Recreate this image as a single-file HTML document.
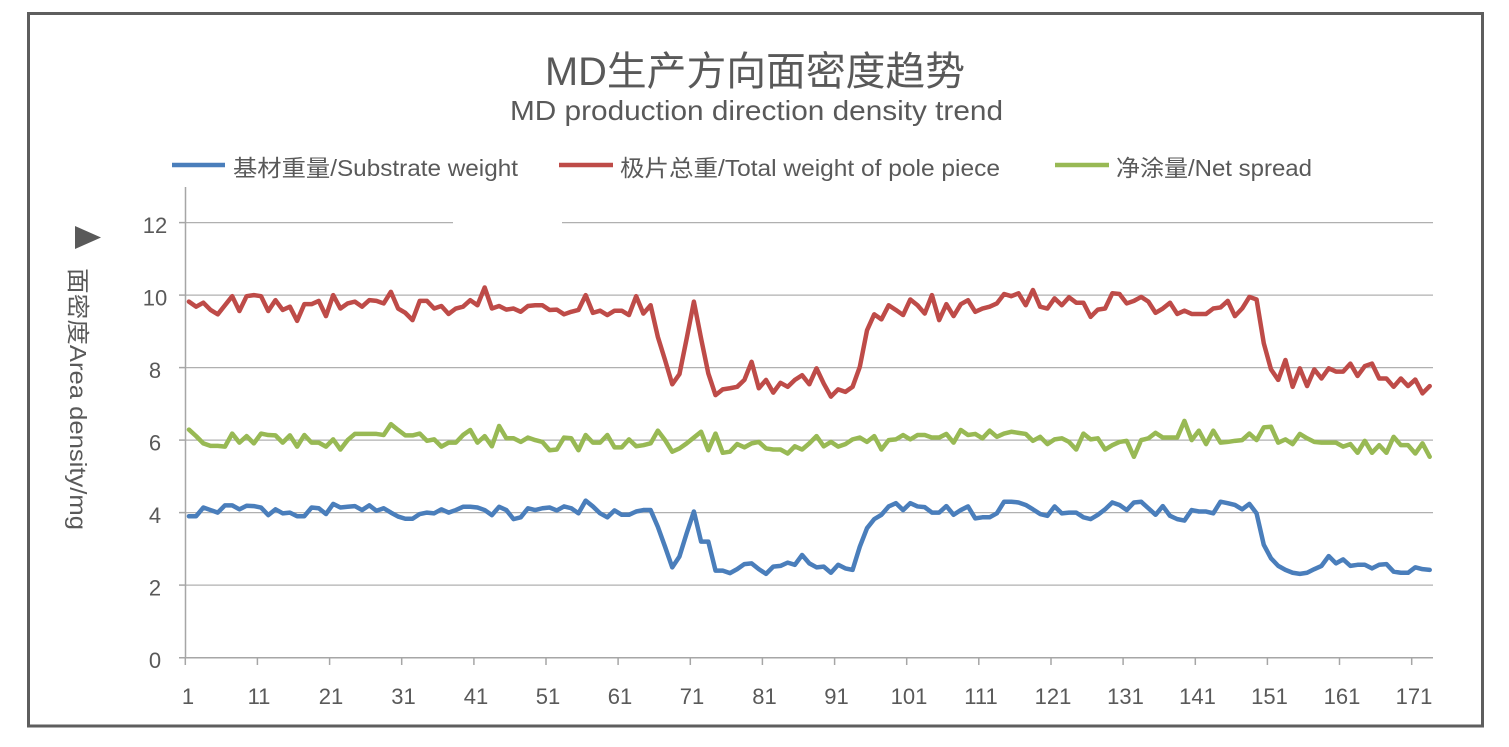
<!DOCTYPE html>
<html><head><meta charset="utf-8"><style>
html,body{margin:0;padding:0;background:#fff;}
svg{display:block;}
text{font-family:"Liberation Sans","Noto Sans CJK SC",sans-serif;fill:#595959;}
</style></head><body>
<svg width="1509" height="747" viewBox="0 0 1509 747" xmlns="http://www.w3.org/2000/svg">
<rect x="0" y="0" width="1509" height="747" fill="#fff"/>
<rect x="28.5" y="13.5" width="1454" height="712.5" fill="#fff" stroke="#5e5e5e" stroke-width="3"/>

<!-- Title -->
<text x="545" y="85" font-size="40" textLength="420" lengthAdjust="spacingAndGlyphs">MD生产方向面密度趋势</text>
<text x="510" y="120" font-size="28" textLength="493" lengthAdjust="spacingAndGlyphs">MD production direction density trend</text>

<!-- Legend -->
<line x1="172" y1="165" x2="225" y2="165" stroke="#4a7ebb" stroke-width="4.5"/>
<text x="233" y="176" font-size="23" textLength="285" lengthAdjust="spacingAndGlyphs">基材重量/Substrate weight</text>
<line x1="559" y1="165" x2="613" y2="165" stroke="#be4b48" stroke-width="4.5"/>
<text x="620" y="176" font-size="23" textLength="380" lengthAdjust="spacingAndGlyphs">极片总重/Total weight of pole piece</text>
<line x1="1055" y1="165" x2="1109" y2="165" stroke="#98b954" stroke-width="4.5"/>
<text x="1116" y="176" font-size="23" textLength="196" lengthAdjust="spacingAndGlyphs">净涂量/Net spread</text>

<!-- Y axis title -->
<polygon points="75,226 101,237.5 75,249" fill="#595959"/>
<text transform="translate(70,268) rotate(90)" font-size="23" textLength="262" lengthAdjust="spacingAndGlyphs">面密度Area density/mg</text>

<!-- Gridlines -->
<g stroke="#b0b0b0" stroke-width="1.3">
<line x1="186" y1="222.6" x2="453" y2="222.6"/>
<line x1="562" y1="222.6" x2="1433" y2="222.6"/>
<line x1="186" y1="295.1" x2="1433" y2="295.1"/>
<line x1="186" y1="367.6" x2="1433" y2="367.6"/>
<line x1="186" y1="440.1" x2="1433" y2="440.1"/>
<line x1="186" y1="512.6" x2="1433" y2="512.6"/>
<line x1="186" y1="585.1" x2="1433" y2="585.1"/>
</g>
<!-- Axes -->
<g stroke="#a6a6a6" stroke-width="1.5">
<line x1="185.5" y1="187" x2="185.5" y2="658"/>
<line x1="179" y1="657.7" x2="1433" y2="657.7"/>
<line x1="179" y1="222.6" x2="186" y2="222.6"/>
<line x1="179" y1="295.1" x2="186" y2="295.1"/>
<line x1="179" y1="367.6" x2="186" y2="367.6"/>
<line x1="179" y1="440.1" x2="186" y2="440.1"/>
<line x1="179" y1="512.6" x2="186" y2="512.6"/>
<line x1="179" y1="585.1" x2="186" y2="585.1"/>
<line x1="185.3" y1="657.7" x2="185.3" y2="665"/>
<line x1="257.4" y1="657.7" x2="257.4" y2="665"/>
<line x1="329.6" y1="657.7" x2="329.6" y2="665"/>
<line x1="401.7" y1="657.7" x2="401.7" y2="665"/>
<line x1="473.9" y1="657.7" x2="473.9" y2="665"/>
<line x1="546.0" y1="657.7" x2="546.0" y2="665"/>
<line x1="618.1" y1="657.7" x2="618.1" y2="665"/>
<line x1="690.3" y1="657.7" x2="690.3" y2="665"/>
<line x1="762.4" y1="657.7" x2="762.4" y2="665"/>
<line x1="834.6" y1="657.7" x2="834.6" y2="665"/>
<line x1="906.7" y1="657.7" x2="906.7" y2="665"/>
<line x1="978.8" y1="657.7" x2="978.8" y2="665"/>
<line x1="1051.0" y1="657.7" x2="1051.0" y2="665"/>
<line x1="1123.1" y1="657.7" x2="1123.1" y2="665"/>
<line x1="1195.3" y1="657.7" x2="1195.3" y2="665"/>
<line x1="1267.4" y1="657.7" x2="1267.4" y2="665"/>
<line x1="1339.5" y1="657.7" x2="1339.5" y2="665"/>
<line x1="1411.7" y1="657.7" x2="1411.7" y2="665"/>
</g>

<!-- Y tick labels -->
<g font-size="22" text-anchor="middle">
<text x="155" y="233">12</text>
<text x="155" y="305.5">10</text>
<text x="155" y="378">8</text>
<text x="155" y="450.5">6</text>
<text x="155" y="523">4</text>
<text x="155" y="595.5">2</text>
<text x="155" y="668">0</text>
</g>
<!-- X tick labels -->
<g font-size="22" text-anchor="middle">
<text x="188" y="704">1</text>
<text x="259" y="704">11</text>
<text x="331" y="704">21</text>
<text x="403.5" y="704">31</text>
<text x="476" y="704">41</text>
<text x="548" y="704">51</text>
<text x="620" y="704">61</text>
<text x="692" y="704">71</text>
<text x="764.5" y="704">81</text>
<text x="836.5" y="704">91</text>
<text x="909" y="704">101</text>
<text x="981" y="704">111</text>
<text x="1053" y="704">121</text>
<text x="1125.5" y="704">131</text>
<text x="1197.5" y="704">141</text>
<text x="1269.5" y="704">151</text>
<text x="1342" y="704">161</text>
<text x="1414" y="704">171</text>
</g>

<!-- Series -->
<g transform="matrix(7.214 0 0 -36.25 181.69 657.6)" fill="none" stroke-linejoin="round" stroke-linecap="round">
<polyline vector-effect="non-scaling-stroke" stroke="#4a7ebb" stroke-width="4.5" points="1,3.90 2,3.90 3,4.14 4,4.07 5,4.0 6,4.20 7,4.20 8,4.09 9,4.19 10,4.18 11,4.14 12,3.93 13,4.09 14,3.98 15,4.0 16,3.90 17,3.90 18,4.14 19,4.12 20,3.96 21,4.24 22,4.14 23,4.16 24,4.18 25,4.07 26,4.20 27,4.05 28,4.12 29,4.0 30,3.89 31,3.83 32,3.83 33,3.96 34,4.0 35,3.98 36,4.09 37,4.0 38,4.07 39,4.16 40,4.16 41,4.14 42,4.07 43,3.93 44,4.16 45,4.07 46,3.82 47,3.87 48,4.12 49,4.07 50,4.12 51,4.14 52,4.06 53,4.17 54,4.12 55,3.98 56,4.33 57,4.17 58,3.98 59,3.87 60,4.06 61,3.94 62,3.94 63,4.03 64,4.07 65,4.07 66,3.61 67,3.06 68,2.49 69,2.79 70,3.43 71,4.03 72,3.20 73,3.20 74,2.40 75,2.40 76,2.33 77,2.44 78,2.58 79,2.60 80,2.44 81,2.31 82,2.51 83,2.53 84,2.62 85,2.56 86,2.83 87,2.60 88,2.49 89,2.51 90,2.34 91,2.56 92,2.46 93,2.42 94,3.06 95,3.57 96,3.82 97,3.94 98,4.17 99,4.26 100,4.07 101,4.26 102,4.17 103,4.15 104,4.0 105,4.0 106,4.18 107,3.94 108,4.07 109,4.17 110,3.84 111,3.87 112,3.87 113,3.98 114,4.30 115,4.30 116,4.28 117,4.21 118,4.09 119,3.96 120,3.91 121,4.17 122,3.98 123,4.0 124,4.0 125,3.87 126,3.82 127,3.94 128,4.09 129,4.28 130,4.21 131,4.07 132,4.28 133,4.30 134,4.12 135,3.94 136,4.18 137,3.91 138,3.82 139,3.78 140,4.07 141,4.03 142,4.03 143,3.98 144,4.30 145,4.26 146,4.21 147,4.09 148,4.24 149,3.98 150,3.11 151,2.74 152,2.53 153,2.42 154,2.34 155,2.31 156,2.34 157,2.44 158,2.53 159,2.80 160,2.60 161,2.71 162,2.53 163,2.56 164,2.56 165,2.46 166,2.56 167,2.58 168,2.37 169,2.34 170,2.34 171,2.49 172,2.44 173,2.42"/>
<polyline vector-effect="non-scaling-stroke" stroke="#be4b48" stroke-width="4.5" points="1,9.82 2,9.68 3,9.79 4,9.59 5,9.47 6,9.72 7,9.97 8,9.56 9,9.97 10,10.0 11,9.97 12,9.56 13,9.86 14,9.59 15,9.68 16,9.29 17,9.75 18,9.75 19,9.84 20,9.42 21,10.0 22,9.63 23,9.77 24,9.82 25,9.68 26,9.86 27,9.84 28,9.77 29,10.09 30,9.63 31,9.51 32,9.31 33,9.84 34,9.84 35,9.63 36,9.70 37,9.48 38,9.63 39,9.68 40,9.86 41,9.72 42,10.21 43,9.63 44,9.70 45,9.60 46,9.63 47,9.54 48,9.70 49,9.72 50,9.72 51,9.59 52,9.60 53,9.47 54,9.54 55,9.59 56,10.0 57,9.51 58,9.57 59,9.45 60,9.57 61,9.57 62,9.45 63,9.97 64,9.49 65,9.72 66,8.85 67,8.21 68,7.54 69,7.82 70,8.80 71,9.82 72,8.80 73,7.84 74,7.24 75,7.40 76,7.43 77,7.47 78,7.66 79,8.16 80,7.43 81,7.66 82,7.31 83,7.58 84,7.47 85,7.66 86,7.79 87,7.54 88,7.98 89,7.56 90,7.20 91,7.40 92,7.33 93,7.47 94,8.02 95,9.03 96,9.47 97,9.33 98,9.72 99,9.59 100,9.45 101,9.88 102,9.72 103,9.49 104,10.0 105,9.31 106,9.75 107,9.42 108,9.75 109,9.86 110,9.54 111,9.63 112,9.68 113,9.77 114,10.03 115,9.97 116,10.05 117,9.72 118,10.14 119,9.68 120,9.63 121,9.91 122,9.72 123,9.94 124,9.79 125,9.79 126,9.40 127,9.60 128,9.63 129,10.05 130,10.03 131,9.77 132,9.84 133,9.95 134,9.82 135,9.51 136,9.63 137,9.79 138,9.48 139,9.57 140,9.48 141,9.48 142,9.48 143,9.63 144,9.66 145,9.84 146,9.42 147,9.63 148,9.95 149,9.88 150,8.67 151,7.95 152,7.66 153,8.21 154,7.47 155,7.98 156,7.49 157,7.95 158,7.70 159,7.98 160,7.89 161,7.89 162,8.11 163,7.77 164,8.04 165,8.11 166,7.70 167,7.70 168,7.47 169,7.70 170,7.49 171,7.67 172,7.29 173,7.49"/>
<polyline vector-effect="non-scaling-stroke" stroke="#98b954" stroke-width="4.5" points="1,6.29 2,6.11 3,5.91 4,5.84 5,5.84 6,5.82 7,6.18 8,5.93 9,6.11 10,5.91 11,6.18 12,6.14 13,6.13 14,5.93 15,6.13 16,5.82 17,6.14 18,5.93 19,5.93 20,5.82 21,6.02 22,5.74 23,6.0 24,6.17 25,6.17 26,6.17 27,6.17 28,6.14 29,6.44 30,6.28 31,6.13 32,6.13 33,6.18 34,5.98 35,6.02 36,5.82 37,5.93 38,5.93 39,6.14 40,6.28 41,5.93 42,6.11 43,5.83 44,6.39 45,6.05 46,6.05 47,5.95 48,6.07 49,6.0 50,5.95 51,5.72 52,5.74 53,6.07 54,6.05 55,5.72 56,6.14 57,5.93 58,5.93 59,6.14 60,5.80 61,5.80 62,6.02 63,5.83 64,5.86 65,5.91 66,6.26 67,6.0 68,5.68 69,5.77 70,5.91 71,6.07 72,6.23 73,5.72 74,6.18 75,5.65 76,5.68 77,5.89 78,5.80 79,5.91 80,5.95 81,5.77 82,5.74 83,5.74 84,5.63 85,5.83 86,5.74 87,5.91 88,6.11 89,5.83 90,5.95 91,5.82 92,5.89 93,6.02 94,6.07 95,5.95 96,6.11 97,5.74 98,6.0 99,6.02 100,6.14 101,6.02 102,6.14 103,6.14 104,6.07 105,6.07 106,6.17 107,5.93 108,6.28 109,6.14 110,6.17 111,6.05 112,6.26 113,6.09 114,6.18 115,6.23 116,6.20 117,6.17 118,5.98 119,6.09 120,5.89 121,6.02 122,6.05 123,5.95 124,5.74 125,6.18 126,6.02 127,6.05 128,5.74 129,5.86 130,5.95 131,5.98 132,5.54 133,6.0 134,6.05 135,6.20 136,6.07 137,6.07 138,6.07 139,6.53 140,6.0 141,6.26 142,5.89 143,6.26 144,5.93 145,5.95 146,5.98 147,6.0 148,6.18 149,6.0 150,6.35 151,6.37 152,5.93 153,6.02 154,5.89 155,6.17 156,6.05 157,5.95 158,5.93 159,5.93 160,5.93 161,5.82 162,5.89 163,5.65 164,5.98 165,5.65 166,5.86 167,5.65 168,6.09 169,5.86 170,5.86 171,5.63 172,5.91 173,5.54"/>
</g>
</svg>
</body></html>
